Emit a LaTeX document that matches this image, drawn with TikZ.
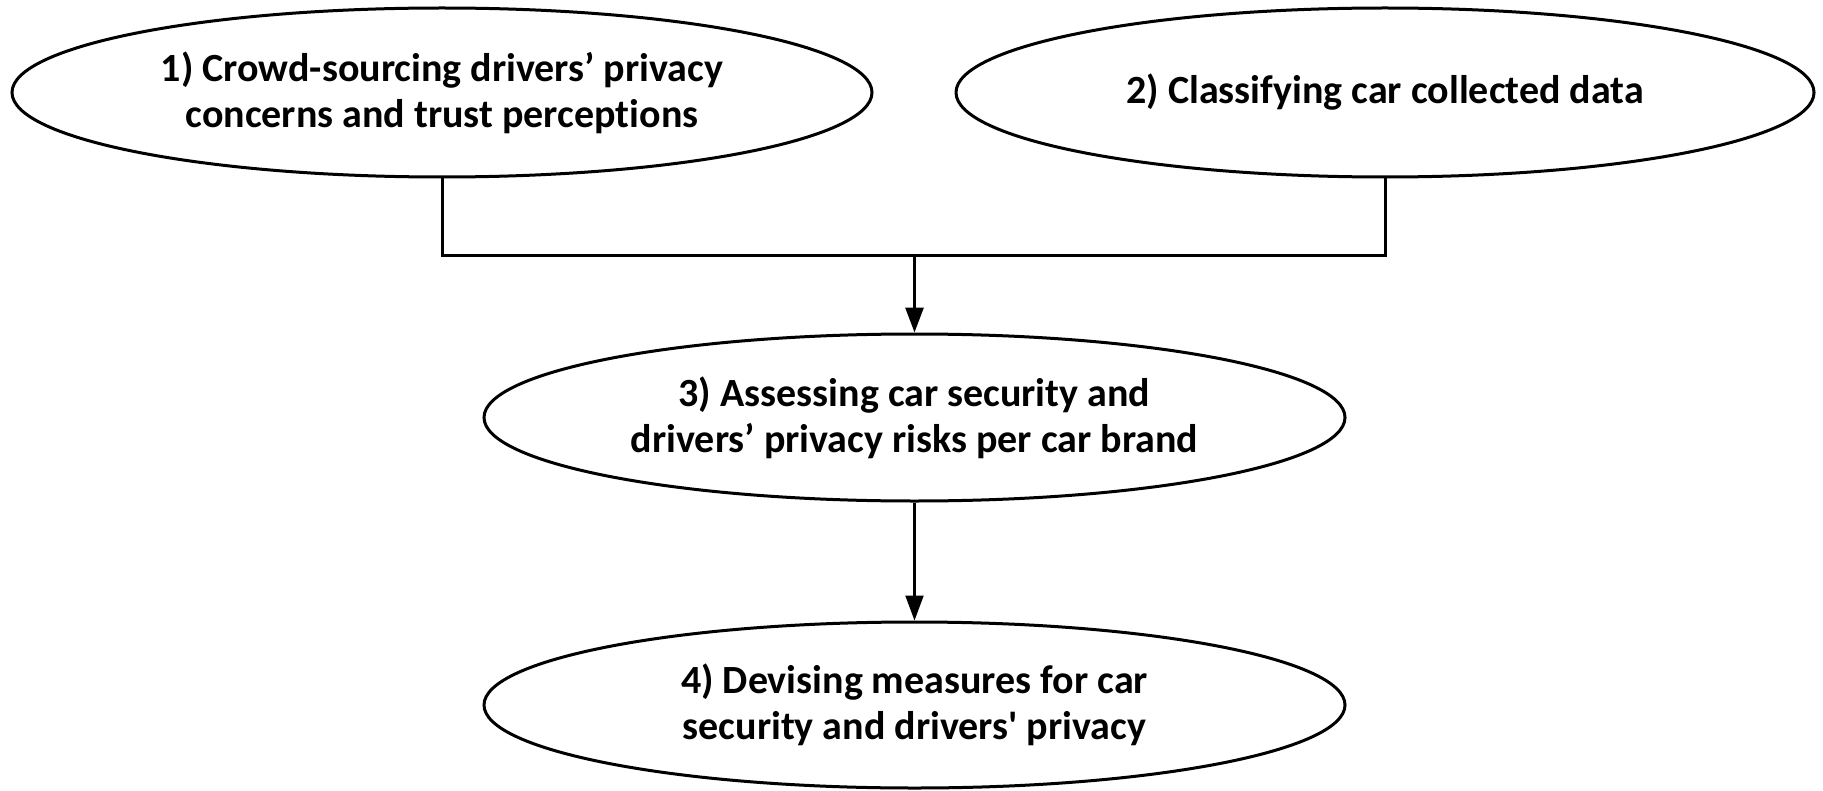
\documentclass[tikz,border=0pt]{standalone}
\usepackage{fontspec}
\setmainfont{Carlito}[Ligatures={TeX,NoCommon}]
\usetikzlibrary{shapes.geometric,arrows.meta}
\tikzset{
  stage/.style={ellipse, draw, line width=1.5pt, fill=white, inner sep=0pt,
    align=center, font=\fontsize{20}{23}\selectfont\bfseries},
  link/.style={line width=1.5pt},
  flow/.style={line width=1.5pt, -{Triangle[length=12.5pt,width=9pt]}},
}
\begin{document}
\begin{tikzpicture}[x=0.5pt, y=-0.5pt]
  \path[use as bounding box] (0,0) rectangle (1823,791);
  % the four stages
  \node[stage, minimum width=430pt, minimum height=84.5pt] (s1) at (442,92.5)
    {1) Crowd-sourcing drivers’ privacy\\concerns and trust perceptions};
  \node[stage, minimum width=429pt, minimum height=84.5pt] (s2) at (1385,92.5)
    {2) Classifying car collected data};
  \node[stage, minimum width=430.5pt, minimum height=83.5pt] (s3) at (914.5,417.5)
    {3) Assessing car security and\\drivers’ privacy risks per car brand};
  \node[stage, minimum width=430.5pt, minimum height=83pt] (s4) at (914.5,705)
    {4) Devising measures for car\\security and drivers\textquotesingle\ privacy};
  % stages 1 and 2 merge into stage 3
  \coordinate (j1) at (s1.south |- 0,255);
  \coordinate (j2) at (s2.south |- 0,255);
  \coordinate (jm) at (s3.north |- 0,255);
  \draw[link] (s1.south) -- (j1) -- (j2) -- (s2.south);
  \draw[flow] (jm) -- (s3.north);
  \draw[flow, line width=1.1pt] (s3.south) -- (s4.north);
\end{tikzpicture}
\end{document}
